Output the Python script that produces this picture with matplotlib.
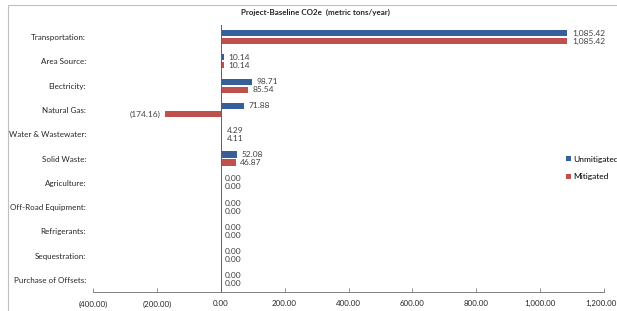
import matplotlib
matplotlib.use("Agg")
import matplotlib.pyplot as plt
import matplotlib.transforms as mtransforms
import numpy as np
from matplotlib.patches import Rectangle

plt.rcParams['font.family'] = ['Lato', 'DejaVu Sans']

categories = ["Transportation:", "Area Source:", "Electricity:", "Natural Gas:",
              "Water & Wastewater:", "Solid Waste:", "Agriculture:",
              "Off-Road Equipment:", "Refrigerants:", "Sequestration:",
              "Purchase of Offsets:"]
unmitigated = [1085.42, 10.14, 98.71, 71.88, 4.29, 52.08, 0, 0, 0, 0, 0]
mitigated = [1085.42, 10.14, 85.54, -174.16, 4.11, 46.87, 0, 0, 0, 0, 0]
xticks = [-400, -200, 0, 200, 400, 600, 800, 1000, 1200]

blue = "#37609A"
red = "#C0504D"

def fmt(v):
    s = f"{abs(v):,.2f}"
    return f"({s})" if v < 0 else s

fig = plt.figure(figsize=(6.17, 3.11), dpi=100)
fig.patches.append(Rectangle((8/617, -0.1), 1.2, (1 - 5/311) + 0.1,
                             transform=fig.transFigure, fill=False,
                             edgecolor="#BFBFBF", lw=0.8))
ax = fig.add_axes([93/617, 1 - 292/311, 511/617, 267/311])

y = np.arange(len(categories))
off = 0.165
h = 0.25
ax.barh(y - off, unmitigated, height=h, color=blue, label="Unmitigated")
ax.barh(y + off, mitigated, height=h, color=red, label="Mitigated")

for yi, v in zip(y - off, unmitigated):
    ax.text(v + 14 if v >= 0 else v - 14, yi, fmt(v), va="center",
            ha="left" if v >= 0 else "right", fontsize=6.0, color="#404040")
for yi, v in zip(y + off, mitigated):
    ax.text(v + 14 if v >= 0 else v - 14, yi, fmt(v), va="center",
            ha="left" if v >= 0 else "right", fontsize=6.0, color="#404040")

ax.set_xlim(-400, 1200)
ax.set_ylim(len(categories) - 0.5, -0.5)
ax.set_yticks(y)
ax.set_yticklabels(categories, fontsize=5.8, color="#262626")
ax.tick_params(axis="y", length=0, pad=5)
ax.set_xticks(xticks)
ax.set_xticklabels([fmt(t) for t in xticks], fontsize=5.7, color="#262626")
ax.tick_params(axis="x", direction="in", length=3, width=0.6, color="#808080", pad=6)
last = ax.get_xticklabels()[-1]
last.set_transform(last.get_transform() +
                   mtransforms.ScaledTranslation(-3/100, 0, fig.dpi_scale_trans))
for s in ["top", "right", "left"]:
    ax.spines[s].set_visible(False)
ax.spines["bottom"].set_color("#808080")
ax.spines["bottom"].set_linewidth(0.7)
ax.axvline(0, color="#606060", lw=0.7)

fig.text(315/617, 1 - 12/311, "Project-Baseline CO2e  (metric tons/year)",
         ha="center", va="center", fontsize=5.8, fontweight="bold", color="#262626")

leg = ax.legend(loc="center left", bbox_to_anchor=(558/617, 1 - 168/311),
                bbox_transform=fig.transFigure, frameon=False, fontsize=6.0,
                handlelength=0.6, handleheight=0.6, handletextpad=0.3,
                labelspacing=1.3)

fig.savefig("out.png", dpi=100)
